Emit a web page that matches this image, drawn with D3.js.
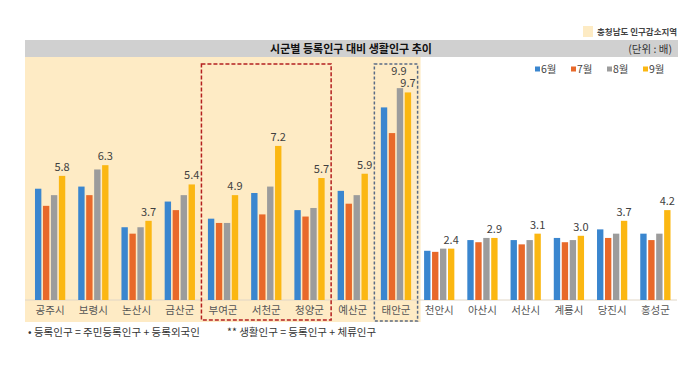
<!DOCTYPE html>
<html>
<head>
<meta charset="utf-8">
<script src="https://cdn.jsdelivr.net/npm/d3@7/dist/d3.min.js"></script>
<style>
body { margin: 0; background: #fff; }
svg { font-family: "Noto Sans CJK KR", "Noto Sans", sans-serif; }
</style>
</head>
<body>
<svg width="700" height="370"></svg>
<script>
var categories = ["공주시", "보령시", "논산시", "금산군", "부여군", "서천군", "청양군", "예산군", "태안군",
    "천안시", "아산시", "서산시", "계룡시", "당진시", "홍성군"];
var seriesNames = ["6월", "7월", "8월", "9월"];
var jun = [5.2, 5.3, 3.4, 4.6, 3.8, 5.0, 4.2, 5.1, 9.0, 2.3, 2.8, 2.8, 2.9, 3.3, 3.1];
var jul = [4.4, 4.9, 3.1, 4.2, 3.6, 4.0, 3.9, 4.5, 7.8, 2.25, 2.7, 2.6, 2.7, 2.9, 2.8];
var aug = [4.9, 6.1, 3.4, 4.9, 3.6, 5.3, 4.3, 4.9, 9.9, 2.4, 2.9, 2.8, 2.8, 3.1, 3.1];
var sep = [5.8, 6.3, 3.7, 5.4, 4.9, 7.2, 5.7, 5.9, 9.7, 2.4, 2.9, 3.1, 3.0, 3.7, 4.2];
var declining = ["공주시", "보령시", "논산시", "금산군", "부여군", "서천군", "청양군", "예산군", "태안군"];
var redBox = ["부여군", "서천군", "청양군"];
var blueBox = ["태안군"];
var extraLabels = [{series: "8월", cat: "태안군"}];

var colors = ["#3a86cf", "#e8692a", "#9c9c9c", "#fbb712"];

var svg = d3.select("svg");
var values = [jun, jul, aug, sep];
var rows = [];
categories.forEach(function (c, i) {
    seriesNames.forEach(function (s, j) {
        rows.push({cat: c, series: s, value: values[j][i]});
    });
});

var x = d3.scaleBand().domain(categories).range([28.5, 677]).paddingInner(0.3).paddingOuter(0.15);
var xs = d3.scaleBand().domain(seriesNames).range([0, x.bandwidth()]).paddingInner(0.2);
var y = d3.scaleLinear().domain([0, 10]).range([300, 86]);
var color = d3.scaleOrdinal().domain(seriesNames).range(colors);
var pad = x.step() - x.bandwidth();

function leftOf(c) { return x(c) - pad / 2; }
function rightOf(c) { return x(c) + x.bandwidth() + pad / 2; }

// top legend for shaded region
svg.append("rect").attr("x", 583).attr("y", 26).attr("width", 10).attr("height", 11).attr("fill", "#fdebc4");
svg.append("text").attr("x", 597).attr("y", 35).attr("font-size", 8.5).attr("font-weight", "bold")
    .attr("fill", "#444").text("충청남도 인구감소지역");

// shaded panel
svg.append("rect")
    .attr("x", 25).attr("y", 57)
    .attr("width", rightOf(declining[declining.length - 1]) + 3 - 25)
    .attr("height", 265)
    .attr("fill", "#feebc5");

// title bar
svg.append("rect").attr("x", 25).attr("y", 40).attr("width", 653).attr("height", 17).attr("fill", "#d0d0d0");
svg.append("text").attr("x", 351).attr("y", 52.5).attr("text-anchor", "middle")
    .attr("font-size", 11).attr("font-weight", "bold").attr("fill", "#111")
    .text("시군별 등록인구 대비 생활인구 추이");
svg.append("text").attr("x", 672).attr("y", 52.5).attr("text-anchor", "end")
    .attr("font-size", 10.5).attr("fill", "#333").text("(단위 : 배)");

// baseline
svg.append("line").attr("x1", 25).attr("x2", 677).attr("y1", y(0)).attr("y2", y(0))
    .attr("stroke", "#e0d6c6").attr("stroke-width", 1);

// bars
svg.append("g").selectAll("rect")
    .data(rows)
    .enter().append("rect")
    .attr("x", function (d) { return x(d.cat) + xs(d.series); })
    .attr("y", function (d) { return y(d.value); })
    .attr("width", xs.bandwidth())
    .attr("height", function (d) { return y(0) - y(d.value); })
    .attr("fill", function (d) { return color(d.series); });

// value labels
var labelled = rows.filter(function (d) {
    if (d.series == "9월") return true;
    return extraLabels.some(function (e) { return e.series == d.series && e.cat == d.cat; });
});
svg.append("g").selectAll("text")
    .data(labelled)
    .enter().append("text")
    .attr("x", function (d) { return x(d.cat) + xs(d.series) + xs.bandwidth() / 2 - (d.series == "9월" ? 0 : 1); })
    .attr("y", function (d) { return y(d.value) - (d.series == "9월" ? 5 : 13); })
    .attr("text-anchor", "middle")
    .attr("font-size", 11)
    .attr("fill", "#404040")
    .text(function (d) { return d3.format(".1f")(d.value); });

// category labels
svg.append("g").selectAll("text")
    .data(categories)
    .enter().append("text")
    .attr("x", function (d) { return x(d) + x.bandwidth() / 2; })
    .attr("y", 314)
    .attr("text-anchor", "middle")
    .attr("font-size", 10.5)
    .attr("fill", "#555")
    .text(function (d) { return d; });

// dashed highlight boxes
svg.append("rect")
    .attr("x", leftOf(redBox[0])).attr("y", 64)
    .attr("width", rightOf(redBox[redBox.length - 1]) - leftOf(redBox[0]))
    .attr("height", 256)
    .attr("fill", "none").attr("stroke", "#b42020").attr("stroke-width", 1.5)
    .attr("stroke-dasharray", "4,2");
svg.append("rect")
    .attr("x", leftOf(blueBox[0])).attr("y", 64)
    .attr("width", rightOf(blueBox[0]) - leftOf(blueBox[0]))
    .attr("height", 257)
    .attr("fill", "none").attr("stroke", "#5a6b85").attr("stroke-width", 1.5)
    .attr("stroke-dasharray", "3,2");

// series legend
var legend = svg.append("g").selectAll("g")
    .data(seriesNames)
    .enter().append("g")
    .attr("transform", function (d, i) { return "translate(" + (535 + i * 36) + ",69)"; });
legend.append("rect").attr("x", 0).attr("y", -2.5).attr("width", 5).attr("height", 5)
    .attr("fill", function (d) { return color(d); });
legend.append("text").attr("x", 6).attr("y", 4).attr("font-size", 10.5).attr("fill", "#444")
    .text(function (d) { return d; });

// footnotes
svg.append("text").attr("x", 28).attr("y", 336).attr("font-size", 10.5).attr("fill", "#333")
    .text("• 등록인구 = 주민등록인구 + 등록외국인");
svg.append("text").attr("x", 227).attr("y", 336).attr("font-size", 10.5).attr("fill", "#333")
    .text("** 생활인구 = 등록인구 + 체류인구");
</script>
</body>
</html>
